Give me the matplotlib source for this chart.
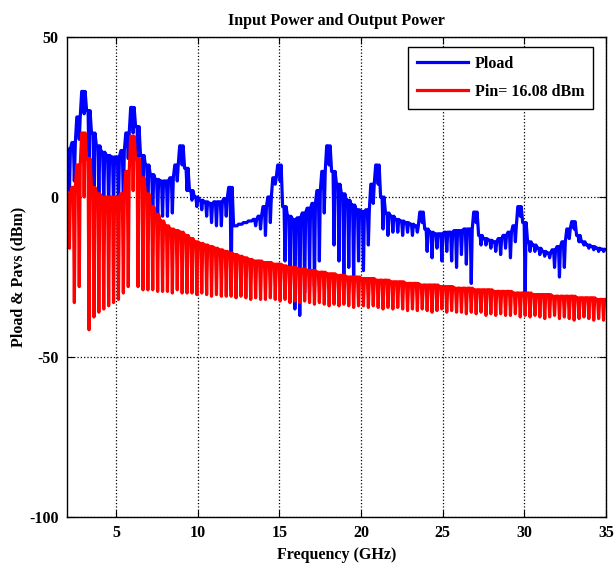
"""
Input power and output power spectrum (Pload / Pin)
"""

import matplotlib
matplotlib.use('Agg')
import matplotlib.pyplot as plt
import numpy as np

# frequency grid of the spectrum (GHz), one entry per ripple
freq = [2.0, 2.3, 2.6, 2.9, 3.2, 3.5, 3.8, 4.1, 4.4, 4.7,
        5.0, 5.3, 5.6, 5.9, 6.2, 6.5, 6.8, 7.1, 7.4, 7.7,
        8.0, 8.3, 8.6, 8.9, 9.2, 9.5, 9.8, 10.1, 10.4, 10.7,
        11.0, 11.3, 11.6, 11.9, 12.2, 12.5, 12.8, 13.1, 13.4, 13.7,
        14.0, 14.3, 14.6, 14.9, 15.2, 15.5, 15.8, 16.1, 16.4, 16.7,
        17.0, 17.3, 17.6, 17.9, 18.2, 18.5, 18.8, 19.1, 19.4, 19.7,
        20.0, 20.3, 20.6, 20.9, 21.2, 21.5, 21.8, 22.1, 22.4, 22.7,
        23.0, 23.3, 23.6, 23.9, 24.2, 24.5, 24.8, 25.1, 25.4, 25.7,
        26.0, 26.3, 26.6, 26.9, 27.2, 27.5, 27.8, 28.1, 28.4, 28.7,
        29.0, 29.3, 29.6, 29.9, 30.2, 30.5, 30.8, 31.1, 31.4, 31.7,
        32.0, 32.3, 32.6, 32.9, 33.2, 33.5, 33.8, 34.1, 34.4, 34.7,
        35.0]

# Pload (dBm): upper level and bottom of the ripple after each grid point
pload_top = [15, 17, 25, 33, 27, 20, 16, 14, 13, 12.5,
             12.5, 14.5, 20, 28, 22, 13, 10, 7, 5.5, 5,
             5, 6, 10, 16, 9, 2, 0, -1, -1.5, -2,
             -1.5, -1.5, -0.5, 3, -9, -8.5, -8, -7.5, -7, -6,
             -3, 0, 6, 10, -3, -6, -7, -6.5, -5, -3.5,
             -2, 2, 8, 16, 8, 4, 1, -1, -2.5, -4,
             -4.5, -4, 4, 10, 0, -5, -6, -7, -7.5, -8,
             -8.5, -9, -4.7, -10, -11, -11.5, -11.5, -11, -11, -10.5,
             -10.5, -10, -10, -4.7, -12, -13, -13.5, -14, -13, -12,
             -11, -9, -3, -8, -14, -15, -16, -17, -17.5, -16.5,
             -15.5, -14, -10, -7.7, -12, -14, -15, -15.5, -16, -16.3,
             -16.5]
pload_dip = [2, 5, 18, 26, 10, 3, 0, -2, -3, -3,
             -3, -2, 12, 20, 10, 0, -3, -5, -6, -6,
             -6, -5, 5, 10, 2, -1, -3, -4, -6, -8,
             -9, -9, -6, -29, -9, -8.5, -8, -7.5, -9, -10,
             -12, -8, 4, 5, -20, -28, -35, -37, -30, -24,
             -28, -20, -5, 10, -15, -20, -25, -22, -26, -20,
             -23, -15, -2, 4, -10, -12, -11, -11, -12, -11,
             -12, -11, -8, -17, -19, -16, -20, -17, -20, -22,
             -18, -21, -27, -8, -15, -15, -16, -17, -18, -16,
             -19, -14, -6, -30, -17, -17, -18, -18.5, -19, -22,
             -25, -22, -13, -10, -14, -15, -16, -16.5, -17, -17,
             -17]

# Pin = 16.08 dBm (dBm)
pin_top = [1, 3, 10, 20, 12, 3, 1, 0, 0, 0,
           0, 1, 8, 19, 12, 6, 1, -3, -5.5, -7.5,
           -9, -10, -10.5, -11, -12, -13, -14, -14.5, -15, -15.5,
           -16, -16.5, -17, -17.5, -18, -18.5, -19, -19.5, -20, -20,
           -20.5, -20.5, -21, -21, -21.5, -22, -22, -22.5, -22.5, -23,
           -23, -23.5, -23.5, -24, -24, -24.5, -24.5, -25, -25, -25,
           -25.5, -25.5, -25.5, -26, -26, -26, -26.5, -26.5, -26.5, -27,
           -27, -27, -27.5, -27.5, -27.5, -27.5, -28, -28, -28, -28.5,
           -28.5, -28.5, -28.5, -29, -29, -29, -29, -29.5, -29.5, -29.5,
           -29.5, -30, -30, -30, -30, -30.5, -30.5, -30.5, -30.5, -31,
           -31, -31, -31, -31, -31.5, -31.5, -31.5, -31.5, -32, -32,
           -32]
pin_dip = [-16, -33, -28, 0, -41.5, -37.5, -36, -35, -34, -33,
           -32, -30, -28, 2, -28, -29, -29, -29, -29.5, -29.5,
           -29.5, -30, -29, -30, -30, -30, -30.5, -30, -30.5, -31,
           -30.5, -31, -31, -31, -31.5, -31, -31.5, -32, -31.5, -32,
           -32, -31.5, -32, -32.5, -32, -33, -32.5, -33, -32.5, -33,
           -33.5, -33, -33.5, -34, -33.5, -34, -33.5, -34, -34.5, -34,
           -34, -34.5, -34, -34.5, -35, -34.5, -35, -34.5, -35, -35.5,
           -35, -35.5, -35, -35.5, -36, -35.5, -35, -36, -35.5, -36,
           -36, -36.5, -36, -36.5, -36, -37, -36.5, -37, -36.5, -37,
           -37, -36.5, -37.5, -37, -37.5, -37, -37.5, -38, -37.5, -37,
           -38, -37.5, -38, -38.5, -38, -37.5, -38, -38.5, -38, -38.5,
           -38]

labels = ['Pload', 'Pin= 16.08 dBm']
x_ticks = [5, 10, 15, 20, 25, 30, 35]
y_ticks = [-100, -50, 0, 50]


def ripple(f, top, dip):
    """Level held over each grid step with a notch down to the dip"""
    f = np.asarray(f, dtype=float)
    top = np.asarray(top, dtype=float)
    dip = np.asarray(dip, dtype=float)
    xs = np.column_stack([f, f + 0.09, f + 0.15, f + 0.21]).ravel()
    ys = np.column_stack([top, top, dip, top]).ravel()
    return xs, ys


plt.rcParams['font.family'] = ['Liberation Serif', 'DejaVu Serif']
plt.rcParams['font.weight'] = 'bold'
plt.rcParams['axes.unicode_minus'] = False

fig = plt.figure(figsize=(6.14, 5.66), dpi=100)
ax = fig.add_axes([67 / 614, 0.0866, 539 / 614, 0.848])

xb, yb = ripple(freq, pload_top, pload_dip)
xr, yr = ripple(freq, pin_top, pin_dip)
ax.plot(xb, yb, color='#0000FF', lw=2.3, label=labels[0])
ax.plot(xr, yr, color='#FF0000', lw=2.3, label=labels[1])

ax.set_xlim(2, 35)
ax.set_ylim(-100, 50)
ax.set_xticks(x_ticks)
ax.set_yticks(y_ticks)
ax.tick_params(direction='in', top=True, right=True, length=5,
               labelsize=11.5, width=0.8, pad=6)
ax.grid(True, color='black', linestyle=':', linewidth=0.9)
for s in ax.spines.values():
    s.set_linewidth(1.0)

ax.set_title('Input Power and Output Power', fontsize=11.5, fontweight='bold', pad=9)
ax.set_xlabel('Frequency (GHz)', fontsize=11.5, fontweight='bold', labelpad=4)
ax.set_ylabel('Pload & Pavs (dBm)', fontsize=11.5, fontweight='bold', labelpad=2)

leg = ax.legend(loc='upper right', bbox_to_anchor=(0.976, 0.979),
                borderaxespad=0, fancybox=False, framealpha=1,
                edgecolor='black', fontsize=11.5, handlelength=3.2,
                handletextpad=0.4, borderpad=0.55, labelspacing=0.75)
leg.get_frame().set_linewidth(1.0)

fig.savefig('out.png', dpi=100)
